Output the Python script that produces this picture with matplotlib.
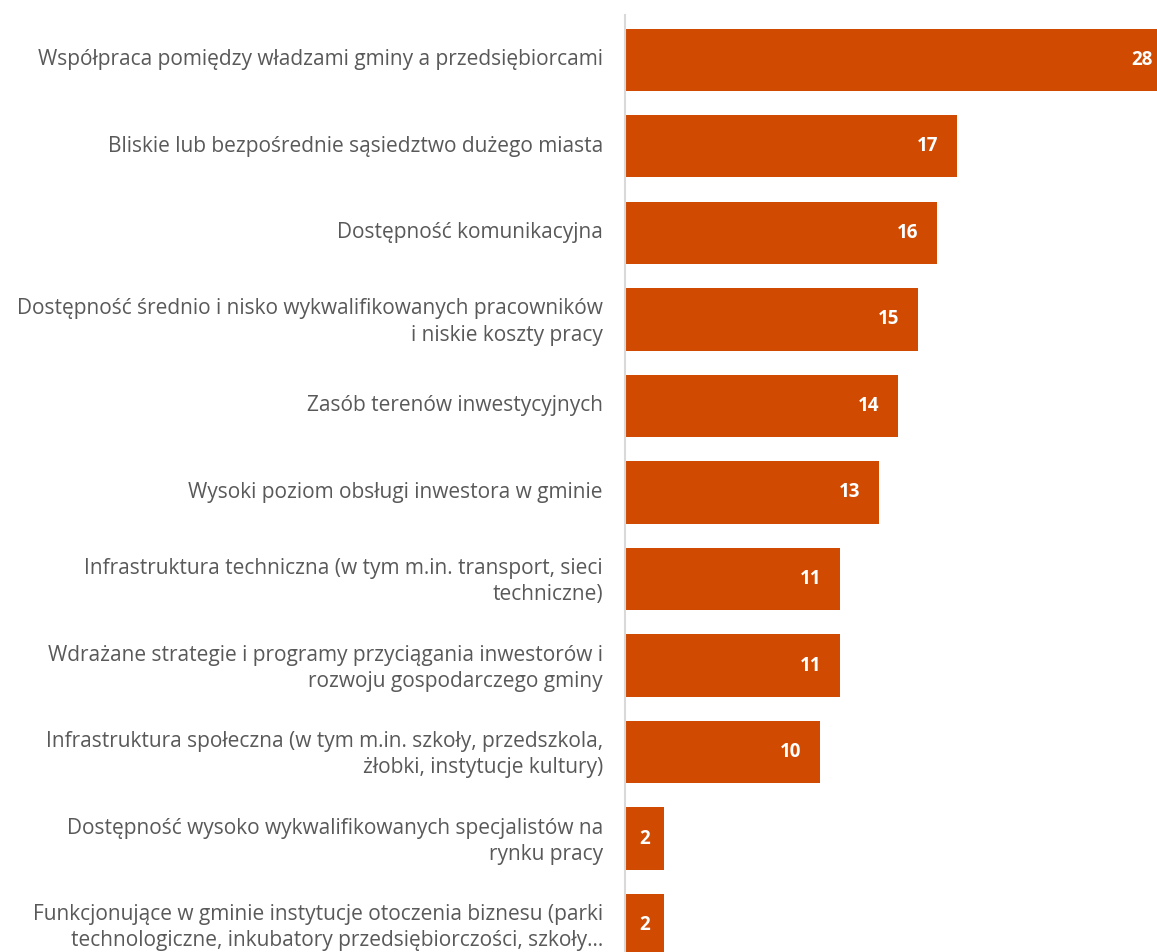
import matplotlib
matplotlib.use("Agg")
import matplotlib.pyplot as plt
import matplotlib.transforms as mtransforms

plt.rcParams['font.family'] = ['Open Sans', 'DejaVu Sans']

labels = [
    "Współpraca pomiędzy władzami gminy a przedsiębiorcami",
    "Bliskie lub bezpośrednie sąsiedztwo dużego miasta",
    "Dostępność komunikacyjna",
    "Dostępność średnio i nisko wykwalifikowanych pracowników\ni niskie koszty pracy",
    "Zasób terenów inwestycyjnych",
    "Wysoki poziom obsługi inwestora w gminie",
    "Infrastruktura techniczna (w tym m.in. transport, sieci\ntechniczne)",
    "Wdrażane strategie i programy przyciągania inwestorów i\nrozwoju gospodarczego gminy",
    "Infrastruktura społeczna (w tym m.in. szkoły, przedszkola,\nżłobki, instytucje kultury)",
    "Dostępność wysoko wykwalifikowanych specjalistów na\nrynku pracy",
    "Funkcjonujące w gminie instytucje otoczenia biznesu (parki\ntechnologiczne, inkubatory przedsiębiorczości, szkoły…",
]
values = [28, 17, 16, 15, 14, 13, 11, 11, 10, 2, 2]

bar_color = '#D04A02'
text_color = '#595959'

fig = plt.figure(figsize=(11.57, 9.52), dpi=100)
ax = fig.add_axes([625 / 1157, 0, 1 - 625 / 1157, 1 - 15 / 952])

pos = list(range(len(values)))
ax.barh(pos, values, height=0.717, color=bar_color)
ax.set_xlim(0, 532 / 19.5)
ax.set_ylim(10.312, -0.52)

# value labels inside the bar end (centred for short bars)
for y, v in zip(pos, values):
    x = max(v - 1.5, v / 2)
    ax.text(x, y, str(v), ha='center', va='center', color='white',
            fontsize=13.5, fontweight='bold')

ax.set_yticks(pos)
ax.set_yticklabels(labels, fontsize=15, color=text_color, linespacing=1.32,
                   ha='right')
ax.tick_params(axis='y', length=0, pad=16)
shift = mtransforms.ScaledTranslation(0, 0.025, fig.dpi_scale_trans)
for lab in ax.get_yticklabels():
    lab.set_transform(lab.get_transform() + shift)
ax.set_xticks([])
for side in ['top', 'right', 'bottom']:
    ax.spines[side].set_visible(False)
ax.spines['left'].set_color('#D9D9D9')
ax.spines['left'].set_linewidth(1.5)

fig.savefig('out.png', dpi=100)
